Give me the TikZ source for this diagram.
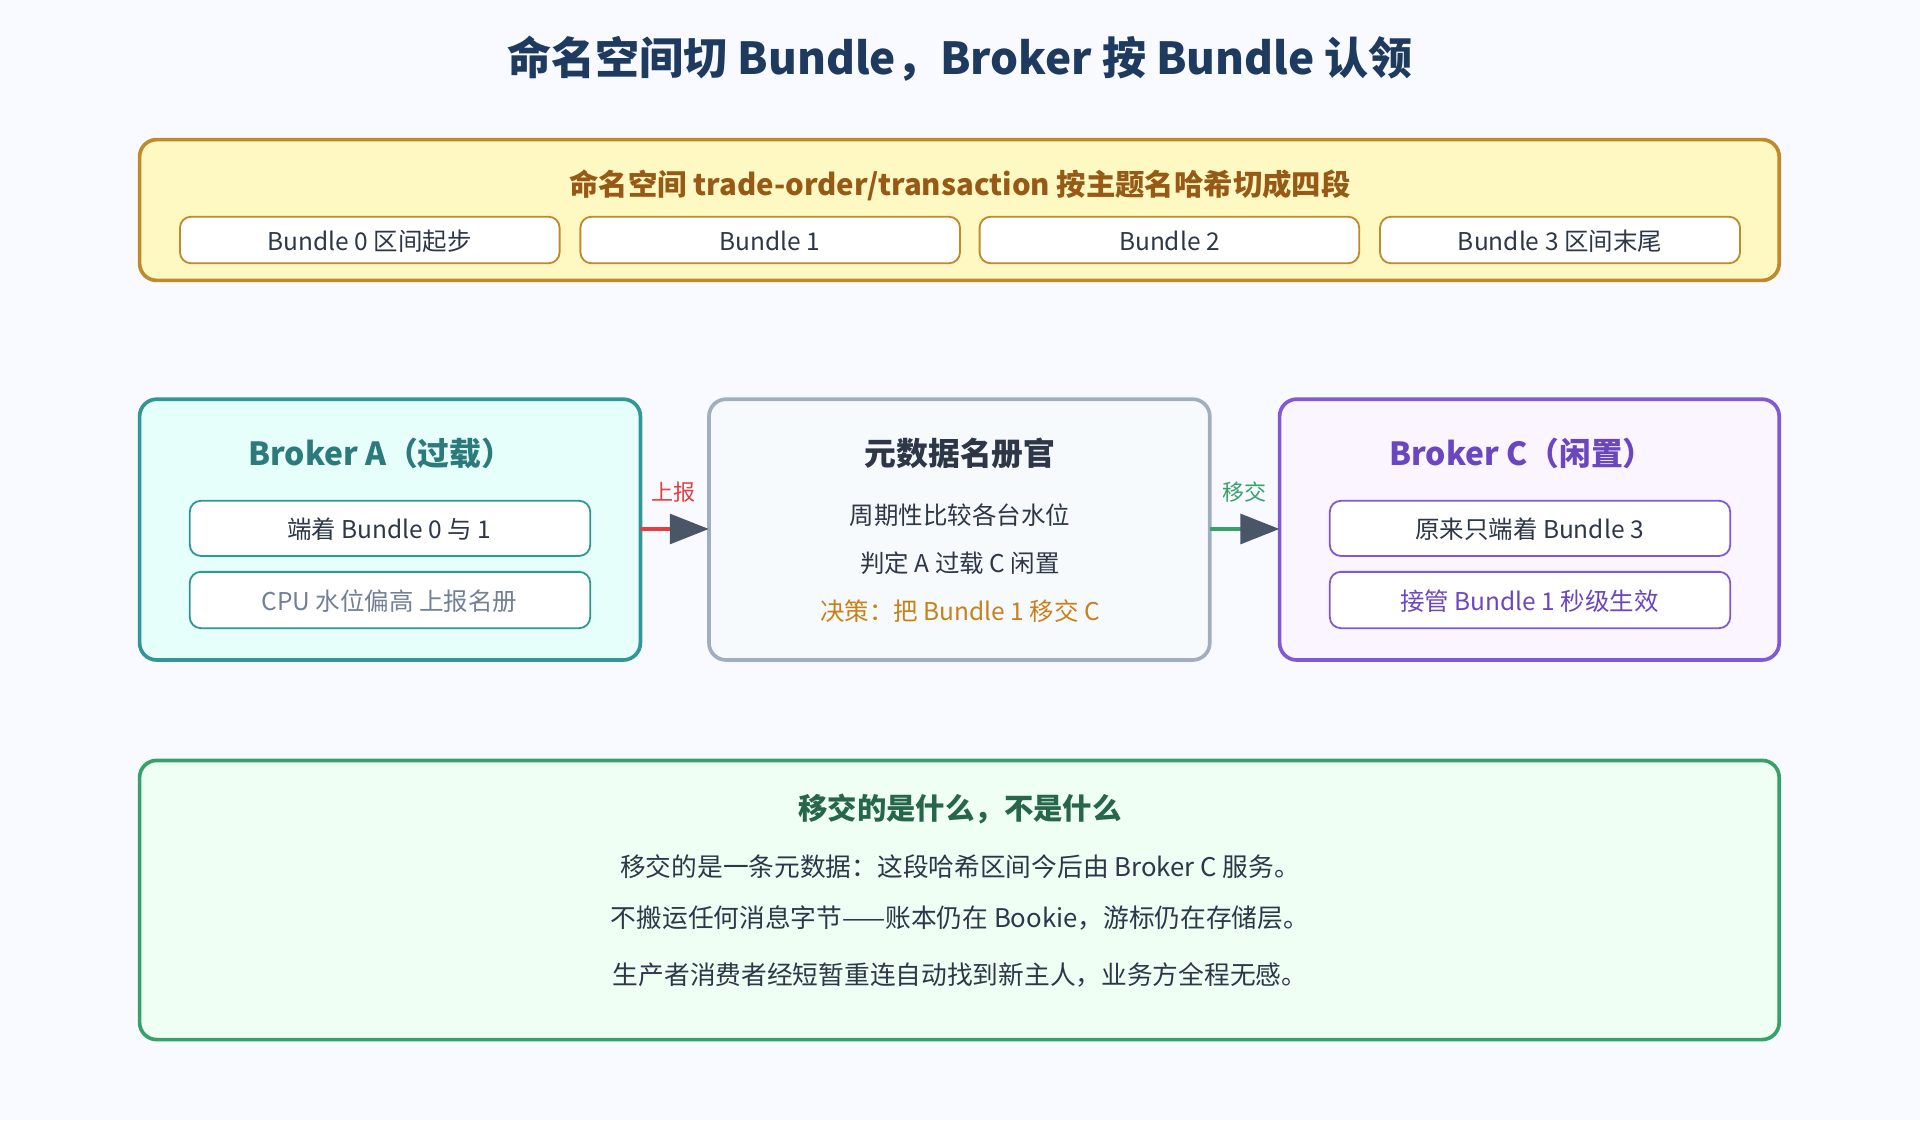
\documentclass[tikz,border=0pt]{standalone}
\usepackage{fontspec}
\setmainfont{Noto Sans CJK SC}
\usetikzlibrary{arrows.meta}
\definecolor{bg}{HTML}{F8FAFF}
\definecolor{navy}{HTML}{1E3A5F}
\definecolor{ybd}{HTML}{C08A2A}
\definecolor{yfl}{HTML}{FEF9C3}
\definecolor{ytx}{HTML}{975A16}
\definecolor{tbd}{HTML}{319795}
\definecolor{tfl}{HTML}{E6FFFA}
\definecolor{ttx}{HTML}{2C7A7B}
\definecolor{gbd}{HTML}{A0AEC0}
\definecolor{gfl}{HTML}{F7FAFC}
\definecolor{pbd}{HTML}{805AD5}
\definecolor{pfl}{HTML}{FAF5FF}
\definecolor{ptx}{HTML}{6B46C1}
\definecolor{nbd}{HTML}{38A169}
\definecolor{nfl}{HTML}{F0FFF4}
\definecolor{ntx}{HTML}{276749}
\definecolor{dark}{HTML}{2D3748}
\definecolor{grey}{HTML}{718096}
\definecolor{orng}{HTML}{C7811A}
\definecolor{red}{HTML}{E53E3E}
\definecolor{tip}{HTML}{4A5568}
\begin{document}
\begin{tikzpicture}[x=1pt,y=-1pt,
  big/.style={rounded corners=14pt,line width=3pt},
  small/.style={rounded corners=9pt,line width=1.5pt,fill=white},
  t/.style={font=\fontsize{20}{24}\selectfont,text=dark},
  h/.style={font=\fontsize{26}{30}\selectfont\bfseries},
  conn/.style={line width=4pt,-{Triangle[length=32pt,width=24pt,color=tip]}}]
\fill[bg] (0,0) rectangle (1568,915);
\useasboundingbox (0,0) rectangle (1568,915);
\node[font=\fontsize{36}{40}\selectfont\bfseries,text=navy] (title) at (784,48) {命名空间切 Bundle，Broker 按 Bundle 认领};
% top
\draw[big,draw=ybd,fill=yfl] (114,114) rectangle (1453,229);
\node[font=\fontsize{24}{28}\selectfont\bfseries,text=ytx] (nt) at (784,151) {命名空间 trade-order/transaction 按主题名哈希切成四段};
\draw[small,draw=ybd] (147,177) rectangle (457,215); \node[t] (b0) at (302,197) {Bundle 0 区间起步};
\draw[small,draw=ybd] (474,177) rectangle (784,215); \node[t] (b1) at (629,197) {Bundle 1};
\draw[small,draw=ybd] (800,177) rectangle (1110,215); \node[t] (b2) at (955,197) {Bundle 2};
\draw[small,draw=ybd] (1127,177) rectangle (1421,215); \node[t] (b3) at (1274,197) {Bundle 3 区间末尾};
% broker A
\draw[big,draw=tbd,fill=tfl] (114,326) rectangle (523,539);
\coordinate (Ar) at (523,432);
\node[h,text=ttx] (at) at (311,370) {Broker A（过载）};
\draw[small,draw=tbd] (155,409) rectangle (482,454); \node[t] (a1) at (318,432) {端着 Bundle 0 与 1};
\draw[small,draw=tbd] (155,467) rectangle (482,513); \node[t,text=grey] (a2) at (318,491) {CPU 水位偏高 上报名册};
% center
\draw[big,draw=gbd,fill=gfl] (579,326) rectangle (988,539);
\coordinate (Ml) at (579,432); \coordinate (Mr) at (988,432);
\node[h,text=dark] (mt) at (784,370) {元数据名册官};
\node[t] (m1) at (784,421) {周期性比较各台水位};
\node[t] (m2) at (784,460) {判定 A 过载 C 闲置};
\node[t,text=orng] (m3) at (784,499) {决策：把 Bundle 1 移交 C};
% broker C
\draw[big,draw=pbd,fill=pfl] (1045,326) rectangle (1453,539);
\coordinate (Cl) at (1045,432);
\node[h,text=ptx] (ct) at (1243,370) {Broker C（闲置）};
\draw[small,draw=pbd] (1086,409) rectangle (1413,454); \node[t] (c1) at (1249,432) {原来只端着 Bundle 3};
\draw[small,draw=pbd] (1086,467) rectangle (1413,513); \node[t,text=ptx] (c2) at (1249,491) {接管 Bundle 1 秒级生效};
% arrows
\draw[conn,draw=red] (Ar) -- (Ml);
\node[font=\fontsize{18}{20}\selectfont,text=red] (l1) at (550,402) {上报};
\draw[conn,draw=nbd] (Mr) -- (Cl);
\node[font=\fontsize{18}{20}\selectfont,text=nbd] (l2) at (1016,402) {移交};
% bottom
\draw[big,draw=nbd,fill=nfl] (114,621) rectangle (1453,849);
\node[font=\fontsize{24}{28}\selectfont\bfseries,text=ntx] (bt) at (784,661) {移交的是什么，不是什么};
\node[t,font=\fontsize{21}{24}\selectfont] (l1b) at (784,708) {移交的是一条元数据：这段哈希区间今后由 Broker C 服务。};
\node[t,font=\fontsize{21}{24}\selectfont] (l2b) at (784,750) {不搬运任何消息字节——账本仍在 Bookie，游标仍在存储层。};
\node[t,font=\fontsize{21}{24}\selectfont] (l3b) at (784,796) {生产者消费者经短暂重连自动找到新主人，业务方全程无感。};
\end{tikzpicture}
\end{document}
